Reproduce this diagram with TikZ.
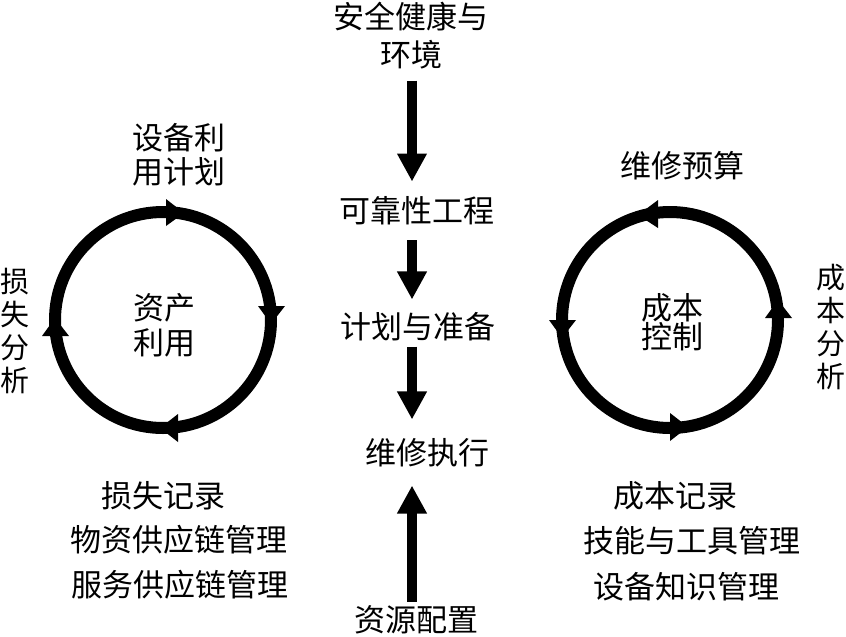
\documentclass[tikz,border=0pt]{standalone}
\usepackage{fontspec}
\newfontfamily\cjk{Noto Sans CJK SC}
\usetikzlibrary{arrows.meta}
\begin{document}
\begin{tikzpicture}[x=1pt,y=-1pt,
  lbl/.style={inner sep=0pt,font=\cjk\fontsize{31}{33}\selectfont,align=center},
  ring/.style={line width=12pt,draw=black},
  bigarrow/.style={line width=10.5pt,-{Triangle[width=28pt,length=28pt]}}]
\useasboundingbox (0,0) rectangle (846,637);
% centre column
\node[lbl,font=\cjk\fontsize{31}{38}\selectfont] (t1) at (411,36) {安全健康与\\环境};
\node[lbl] (t2) at (417,211) {可靠性工程};
\node[lbl] (t3) at (418,327) {计划与准备};
\node[lbl] (t4) at (427,453) {维修执行};
\node[lbl] (t5) at (416,620) {资源配置};
\coordinate (ax) at (412,0);
\draw[bigarrow,shorten <=11pt,shorten >=15pt] (t1.south -| ax) -- (t2.north -| ax);
\draw[bigarrow,shorten <=15pt,shorten >=13pt] (t2.south -| ax) -- (t3.north -| ax);
\draw[bigarrow,shorten <=5pt,shorten >=19pt] (t3.south -| ax) -- (t4.north -| ax);
\draw[bigarrow,shorten <=4pt,shorten >=18pt] (t5.north -| ax) -- (t4.south -| ax);
% left cycle
\draw[ring] (163,320) circle[radius=108];
\fill (184,213) -- (166,199) -- (166,226) -- cycle;
\fill (271,324) -- (258,306) -- (285,306) -- cycle;
\fill (160,428) -- (178,414) -- (178,442) -- cycle;
\fill (55,318) -- (42,336) -- (69,336) -- cycle;
\node[lbl,font=\cjk\fontsize{31}{35}\selectfont] (lc) at (164,325) {资产\\利用};
\node[lbl,font=\cjk\fontsize{31}{34}\selectfont] (lt) at (179,155) {设备利\\用计划};
\node[lbl,font=\cjk\fontsize{29}{33}\selectfont] (ll) at (15,331) {损\\失\\分\\析};
\node[lbl] (lb1) at (163,496) {损失记录};
\node[lbl] (lb2) at (179,540) {物资供应链管理};
\node[lbl] (lb3) at (180,585) {服务供应链管理};
% right cycle
\draw[ring] (670,320) circle[radius=108];
\fill (638,215) -- (658,200) -- (658,228) -- cycle;
\fill (562,338) -- (549,320) -- (576,320) -- cycle;
\fill (688,427) -- (670,413) -- (670,441) -- cycle;
\fill (778,300) -- (765,318) -- (792,318) -- cycle;
\node[lbl,font=\cjk\fontsize{31}{29}\selectfont] (rc) at (672,322) {成本\\控制};
\node[lbl] (rt) at (682,166) {维修预算};
\node[lbl,font=\cjk\fontsize{29}{33}\selectfont] (rr) at (831,327) {成\\本\\分\\析};
\node[lbl] (rb1) at (675,496) {成本记录};
\node[lbl] (rb2) at (692,541) {技能与工具管理};
\node[lbl] (rb3) at (686,587) {设备知识管理};
\end{tikzpicture}
\end{document}
